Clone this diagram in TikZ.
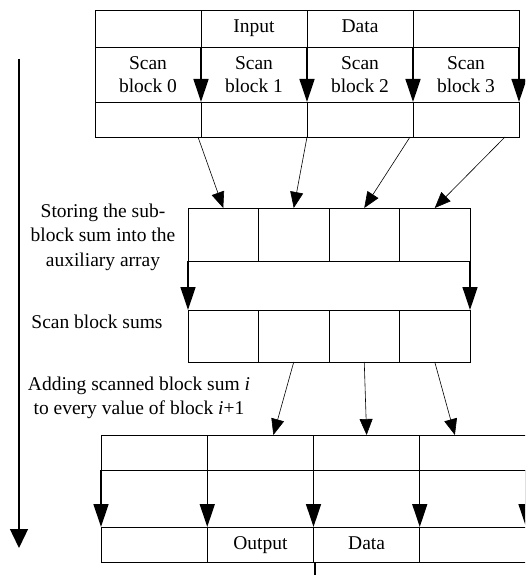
\documentclass[tikz,border=0pt]{standalone}
\usepackage{fontspec}
\setmainfont{Liberation Serif}
\usetikzlibrary{arrows.meta}
\begin{document}
\begin{tikzpicture}[x=1pt,y=-1pt,
  every node/.style={font=\fontsize{19.5}{23}\selectfont, inner sep=0pt, outer sep=0pt},
  lbl/.style={align=center, font=\fontsize{19.5}{24.5}\selectfont},
  box/.style={draw, line width=0.9pt, rectangle, inner sep=0pt, outer sep=0pt,
    text height=13pt, text depth=4pt},
  topcell/.style={box, minimum width=106pt},
  topmid/.style={rectangle, align=center, minimum width=106pt, minimum height=55pt},
  auxcell/.style={box, minimum width=70.5pt},
  botcell/.style={box, minimum width=106.25pt, minimum height=35pt},
  wall/.style={line width=0.9pt},
  flow/.style={line width=1.3pt, -{Triangle[width=15pt,length=23pt]}},
  feed/.style={line width=0.6pt, -{Triangle[width=13pt,length=16pt]}},
  timeline/.style={line width=1.4pt, -{Triangle[width=18pt,length=19pt]}}
]
\fill[white] (0,0) rectangle (525,575);
\useasboundingbox (0,0) rectangle (525,575);
\clip (0,0) rectangle (525,575);

% input array: header row, scan row, result row
\node[topcell, minimum height=37pt] (tr0) at (148,28.5) {};
\node[topcell, minimum height=37pt] (tr1) at (254,28.5) {Input};
\node[topcell, minimum height=37pt] (tr2) at (360,28.5) {Data};
\node[topcell, minimum height=37pt] (tr3) at (466,28.5) {};
\node[topmid] (tm0) at (148,74.5) {Scan\\block 0};
\node[topmid] (tm1) at (254,74.5) {Scan\\block 1};
\node[topmid] (tm2) at (360,74.5) {Scan\\block 2};
\node[topmid] (tm3) at (466,74.5) {Scan\\block 3};
\node[topcell, minimum height=35pt] (br0) at (148,119.5) {};
\node[topcell, minimum height=35pt] (br1) at (254,119.5) {};
\node[topcell, minimum height=35pt] (br2) at (360,119.5) {};
\node[topcell, minimum height=35pt] (br3) at (466,119.5) {};
\draw[wall] (tr0.south west) -- (br0.north west);
\foreach \i in {0,...,3}
  \draw[flow] (tr\i.south east) -- (br\i.north east);

% auxiliary array and its scanned version
\foreach \i/\cx in {0/223.25,1/293.75,2/364.25,3/434.75} {
  \node[auxcell, minimum height=53pt] (a\i) at (\cx,234.5) {};
  \node[auxcell, minimum height=52pt] (s\i) at (\cx,336) {};
}
\draw[flow] (a0.south west) -- (s0.north west);
\draw[flow] (a3.south east) -- (s3.north east);

% block sums go into the auxiliary array
\draw[feed] ([xshift=-3pt]br0.south east) -- (a0.north);
\draw[feed] (br1.south east) -- (a1.north);
\draw[feed] ([xshift=-3pt]br2.south east) -- (a2.north);
\draw[feed] ([xshift=-14pt]br3.south east) -- (a3.north);

% output array
\foreach \i/\cx in {0/154.125,1/260.375,2/366.625,3/472.875} {
  \node[botcell] (o\i) at (\cx,452.5) {};
}
\node[botcell] (p0) at (154.125,544.5) {};
\node[botcell] (p1) at (260.375,544.5) {Output};
\node[botcell] (p2) at (366.625,544.5) {Data};
\node[botcell] (p3) at (472.875,544.5) {};
\foreach \i in {0,...,3}
  \draw[flow] (o\i.south west) -- (p\i.north west);
\draw[flow] (o3.south east) -- (p3.north east);

% scanned sums added to the following blocks
\draw[feed] (s1.south) -- ([xshift=13pt]o1.north);
\draw[feed] (s2.south) -- (o2.north);
\draw[feed] (s3.south) -- ([xshift=-18pt]o3.north);

\coordinate (exit) at (315,585);
\draw[line width=1.4pt] ([xshift=1.5pt]p2.south west) -- (exit);

% time axis and step labels
\coordinate (tstart) at (19,59);
\coordinate (tend) at (19,548);
\draw[timeline] (tstart) -- (tend);
\node[lbl] (store) at (103,237) {Storing the sub-\\block sum into the\\auxiliary array};
\node[lbl] (scansums) at (97,322) {Scan block sums};
\node[lbl] (adding) at (139,398) {Adding scanned block sum \textit{i}\\to every value of block \textit{i}+1};
\end{tikzpicture}
\end{document}
